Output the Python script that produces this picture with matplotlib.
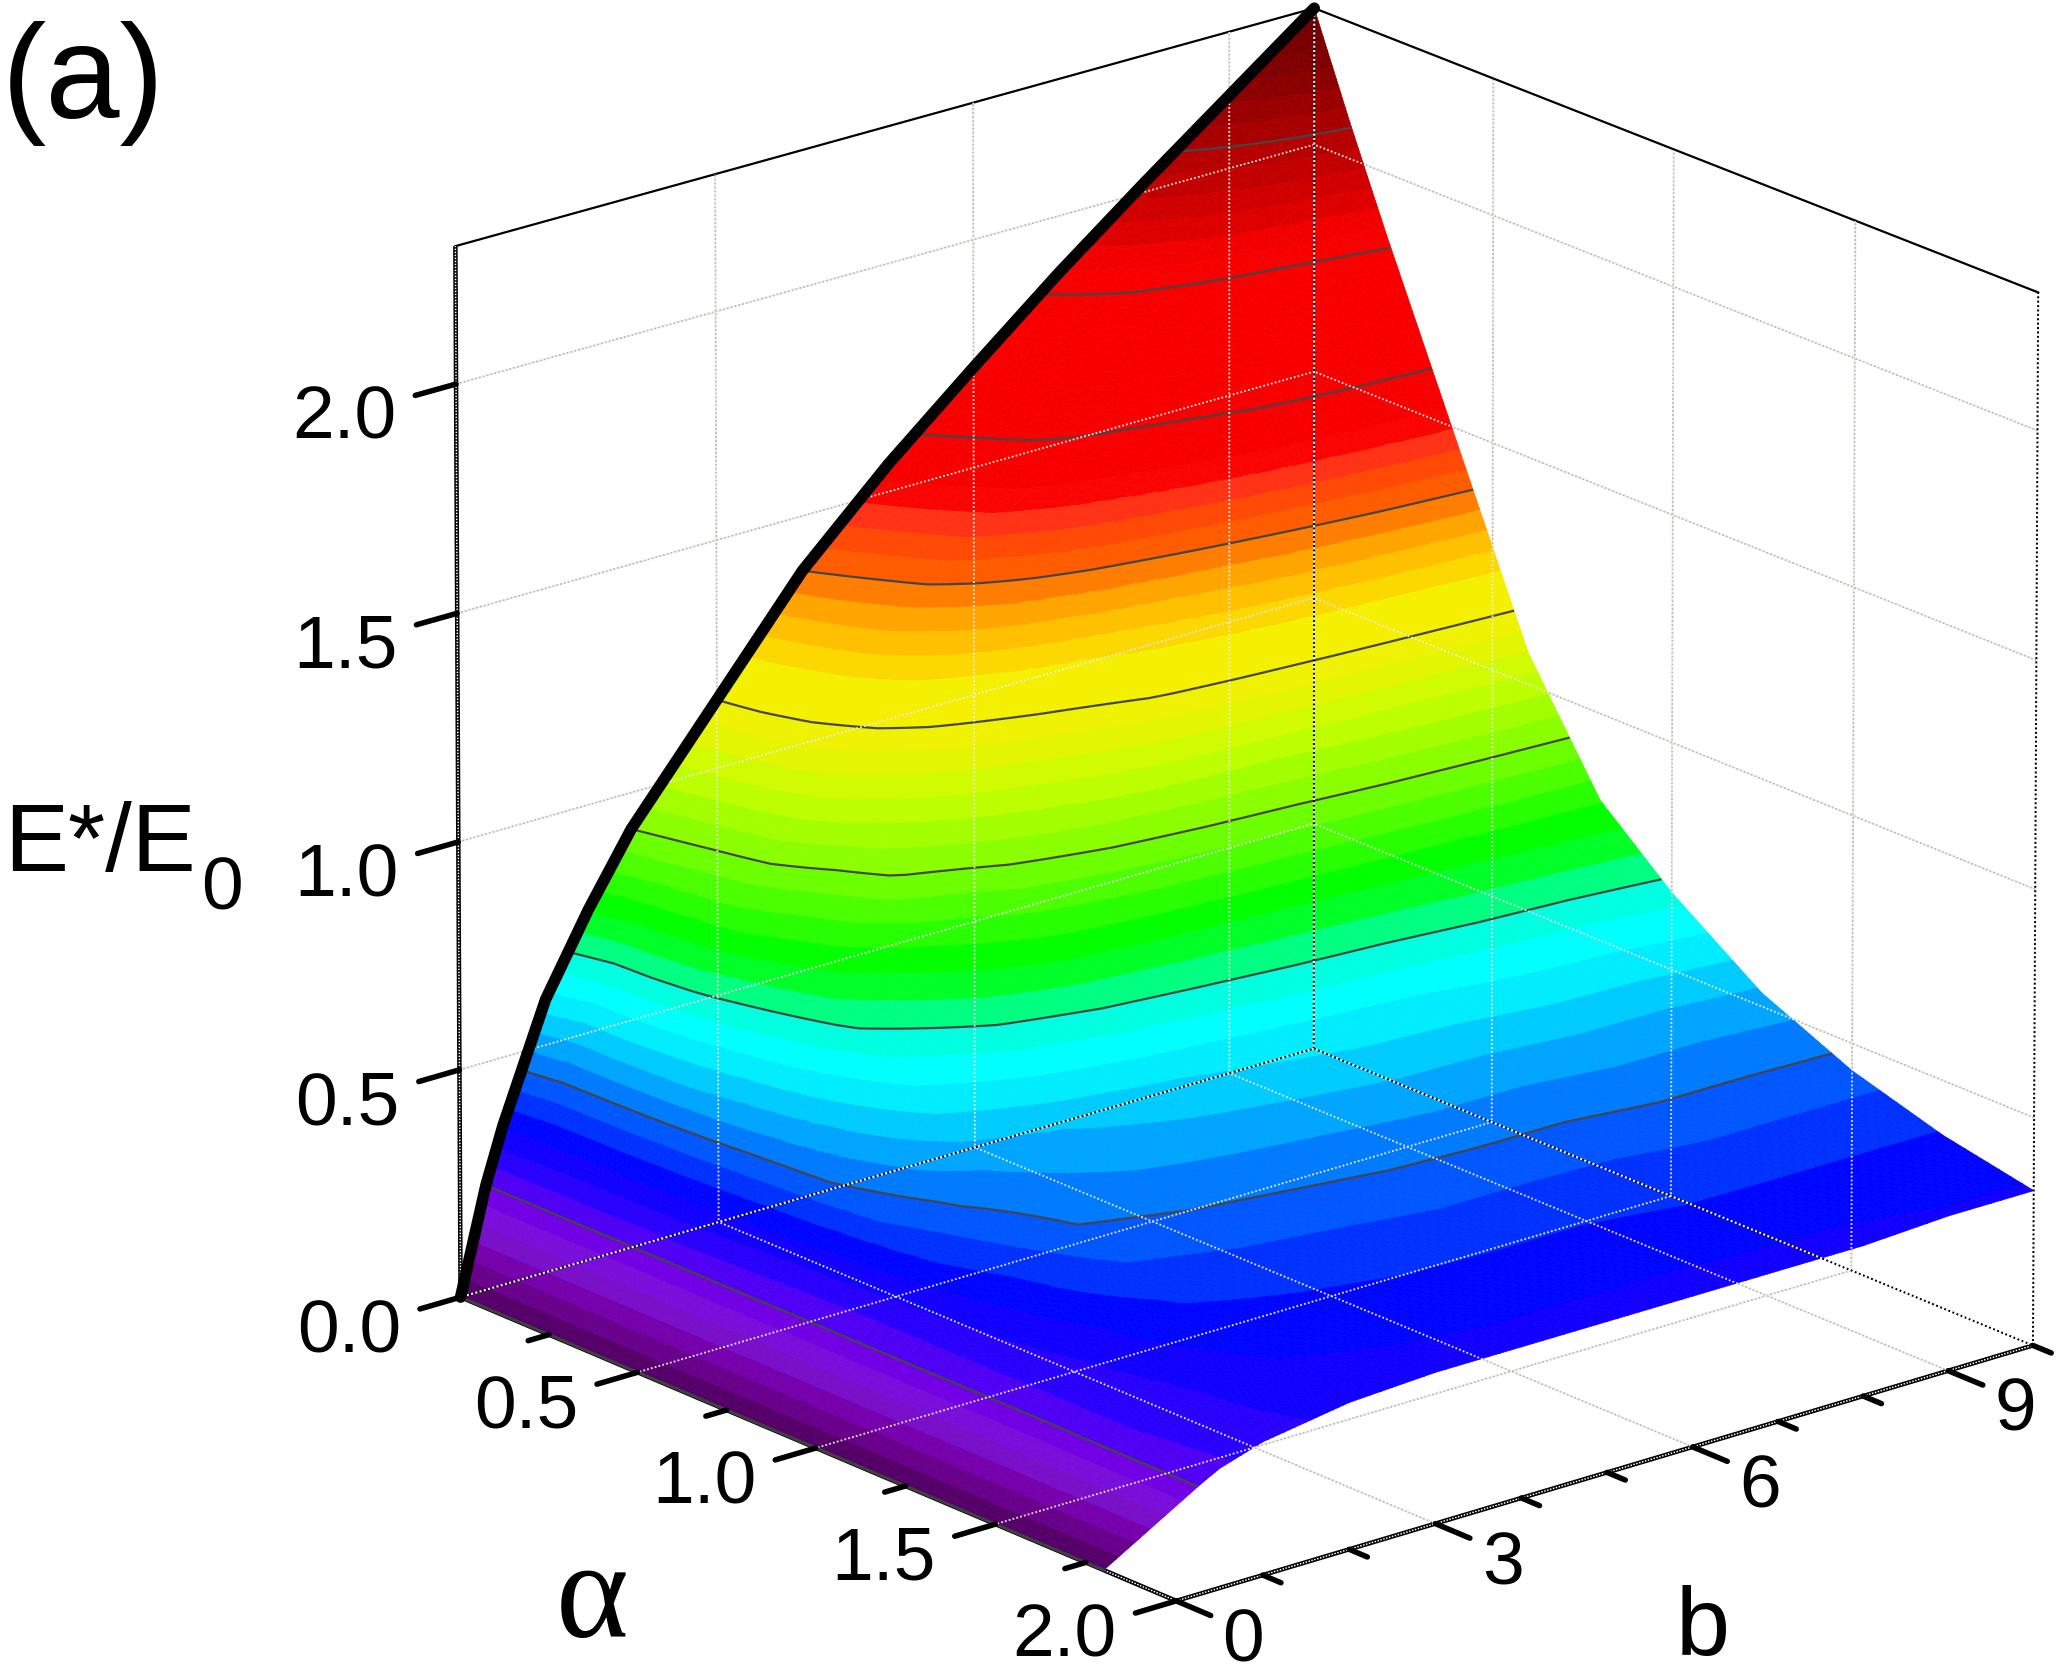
import numpy as np
import matplotlib
matplotlib.use('Agg')
import matplotlib.pyplot as plt
from matplotlib.colors import LinearSegmentedColormap
from mpl_toolkits.mplot3d import proj3d
from mpl_toolkits.mplot3d.art3d import Poly3DCollection

WIDTH, HEIGHT = 2065, 1679
SANS = 'Liberation Sans'
SERIF = 'Liberation Serif'

# surface samples: one row per alpha, one column per b
alpha_values = [0, .1, .2, .3, .4, .5, .6, .8, 1, 1.25, 1.5, 1.75, 2]
b_values = [0, .3, .5, 1, 1.5, 2, 3, 4, 5, 6, 7, 8, 9, 10]
alpha_reach = [1.8, 2, 2, 2, 2, 2, 2, 2, 2, 2, 2, 2, 2, 2]
energy = [
    [0, .23, .35, .60, .77, .92, 1.15, 1.38, 1.56, 1.72, 1.875, 2.02, 2.16, 2.30],
    [0, .23, .33, .55, .73, .89, 1.13, 1.33, 1.50, 1.65, 1.79, 1.90, 2.00, 2.08],
    [0, .23, .32, .55, .72, .86, 1.10, 1.28, 1.44, 1.58, 1.66, 1.73, 1.79, 1.87],
    [0, .23, .32, .54, .70, .84, 1.05, 1.21, 1.33, 1.43, 1.51, 1.59, 1.64, 1.67],
    [0, .23, .31, .53, .67, .79, .97, 1.10, 1.19, 1.26, 1.32, 1.38, 1.43, 1.47],
    [0, .23, .31, .51, .64, .75, .91, .99, 1.06, 1.14, 1.18, 1.21, 1.24, 1.27],
    [0, .23, .30, .49, .61, .71, .81, .90, .95, .98, 1.00, 1.03, 1.05, 1.07],
    [0, .23, .28, .46, .54, .61, .68, .72, .74, .755, .77, .785, .80, .81],
    [0, .23, .27, .41, .47, .50, .54, .57, .59, .61, .62, .64, .65, .67],
    [0, .23, .27, .35, .41, .46, .48, .49, .50, .51, .51, .52, .52, .53],
    [0, .23, .27, .31, .36, .39, .41, .42, .43, .43, .43, .44, .44, .44],
    [0, .24, .27, .29, .325, .35, .36, .37, .37, .37, .38, .38, .38, .38],
    [0, .24, .26, .29, .305, .32, .33, .33, .33, .33, .33, .33, .34, .34],
]
contour_levels = [.23, .46, .69, .92, 1.15, 1.38, 1.61, 1.84, 2.07]

alpha_limits = (0, 2)
b_limits = (0, 10)
z_limits = (0, 2.3)
z_ticks = [0, .5, 1, 1.5, 2]
z_tick_labels = ['0.0', '0.5', '1.0', '1.5', '2.0']
alpha_major = [.5, 1, 1.5, 2]
alpha_major_labels = ['0.5', '1.0', '1.5', '2.0']
alpha_minor = [.25, .75, 1.25, 1.75]
b_major = [0, 3, 6, 9]
b_major_labels = ['0', '3', '6', '9']
b_minor = [1, 2, 4, 5, 7, 8, 10]

# rainbow scale: value on the z axis and its colour
scale_values = [0, .05, .10, .15, .20, .23, .30, .36, .40, .46, .52, .57, .62, .66, .70, .74, .78, .85, .92,
                1.02, 1.08, 1.15, 1.21, 1.26, 1.33, 1.38, 1.43, 1.48, 1.52, 1.89, 1.93, 2.00, 2.07, 2.20, 2.30]
scale_colors = ['#4a0058', '#680088', '#7800b0', '#7a18d8', '#7800e0', '#6000f0', '#1c00ff', '#0000ff', '#0030ff',
                '#0068ff', '#00a8ff', '#00dcff', '#00ffff', '#00ffff', '#00ff90', '#00ff30', '#00ff00', '#40ff00',
                '#7dff00', '#c0ff00', '#dff800', '#f5f000', '#f5f000', '#ffd000', '#ffa000', '#ff6400', '#ff5000',
                '#ff3018', '#f80000', '#f80000', '#e00000', '#c80000', '#b00000', '#800000', '#700000']
band_count = 60


def px(v):
    """Line width in points for a width given in output pixels."""
    return v * 0.72


def refine(values, parts):
    """Subdivide a sample axis into equal parts per cell."""
    pos = np.linspace(0, len(values) - 1, (len(values) - 1) * parts + 1)
    return pos, np.interp(pos, np.arange(len(values)), values)


def clip_by_height(poly, level, keep_above):
    """Cut a 3D polygon with a horizontal plane, keeping one side."""
    out = []
    for i in range(len(poly)):
        p, q = poly[i], poly[(i + 1) % len(poly)]
        dp, dq = p[2] - level, q[2] - level
        if not keep_above:
            dp, dq = -dp, -dq
        if dp >= 0:
            out.append(p)
        if (dp >= 0) != (dq >= 0):
            t = dp / (dp - dq)
            out.append(tuple(p[k] + t * (q[k] - p[k]) for k in range(3)))
    return out


def band_polygons(X, Y, Z, height):
    """Split the mesh triangles into flat-coloured pieces, one per band."""
    verts, bands = [], []
    rows, cols = Z.shape
    for i in range(rows - 1):
        for j in range(cols - 1):
            c = [(X[i + u, j + v], Y[i + u, j + v], Z[i + u, j + v]) for u, v in ((0, 0), (1, 0), (1, 1), (0, 1))]
            for tri in ((c[0], c[1], c[2]), (c[0], c[2], c[3])):
                zs = [p[2] for p in tri]
                lo = int(min(zs) // height)
                hi = int(max(zs) // height)
                if lo == hi:
                    verts.append(list(tri))
                    bands.append(lo)
                    continue
                for k in range(lo, hi + 1):
                    piece = clip_by_height(list(tri), k * height, True)
                    if len(piece) >= 3:
                        piece = clip_by_height(piece, (k + 1) * height, False)
                    if len(piece) >= 3:
                        verts.append(piece)
                        bands.append(k)
    return verts, np.array(bands)


fig = plt.figure(figsize=(WIDTH / 100, HEIGHT / 100), dpi=100, facecolor='white')
ax = fig.add_subplot(projection='3d', computed_zorder=False)
ax.set_axis_off()
ax.view_init(elev=20.04, azim=-40.0)
ax.set_proj_type('persp', focal_length=5.7127)
ax.set_box_aspect((1, 1, 1))
ax.set_xlim(*alpha_limits)
ax.set_ylim(*b_limits)
ax.set_zlim(*z_limits)

# place the square axes so the projected box lands where it should on the page
view_scale, view_x, view_y = 10177.48, 1245.89, 882.0
x0, x1 = ax.viewLim.intervalx
y0, y1 = ax.viewLim.intervaly
side = view_scale * (x1 - x0)
ax.set_position([(view_x + view_scale * x0) / WIDTH, (view_y + view_scale * y0) / HEIGHT,
                 side / WIDTH, side / HEIGHT])

# bilinear mesh over the samples
pos_a, alpha_fine = refine(alpha_values, 8)
pos_b, b_fine = refine(b_values, 8)
samples = np.array(energy, float)
by_b = np.array([np.interp(pos_b, np.arange(len(b_values)), row) for row in samples])
Z = np.array([np.interp(pos_a, np.arange(len(alpha_values)), col) for col in by_b.T]).T
reach = np.interp(pos_b, np.arange(len(b_values)), alpha_reach)
Y, X = np.meshgrid(b_fine, alpha_fine)
X = X * reach[None, :] / 2

top = z_limits[1]
cmap = LinearSegmentedColormap.from_list('bands', [(v / top, c) for v, c in zip(scale_values, scale_colors)], N=512)
band_height = top / band_count
polys, band_ids = band_polygons(X, Y, Z, band_height)
poly_colors = cmap((np.clip(band_ids, 0, band_count - 1) + .5) / band_count)


def line3d(xs, ys, zs, **kw):
    ax.plot(xs, ys, zs, clip_on=False, **kw)


def dotted_pair(xs, ys, zs, under, over, zu, zo, width=1.8):
    """Dots in one colour, with the gaps filled by dots in a second colour."""
    line3d(xs, ys, zs, color=under, lw=px(width), ls=(0, (1, 1.2)), dash_capstyle='butt', zorder=zu)
    line3d(xs, ys, zs, color=over, lw=px(width), ls=(1.1, (1, 1.2)), dash_capstyle='butt', zorder=zo)


def grid_line(xs, ys, zs):
    dotted_pair(xs, ys, zs, '#b8b8b0', '#ecece6', 1, 6)


a0, a1 = alpha_limits
b0, b1 = b_limits
z0, z1 = z_limits
for z in z_ticks[1:]:
    grid_line([a0, a0], [b0, b1], [z, z])
    grid_line([a0, a1], [b1, b1], [z, z])
for b in [3, 6, 9]:
    grid_line([a0, a0], [b, b], [z0, z1])
    grid_line([a0, a1], [b, b], [z0, z0])
for a in [.5, 1, 1.5]:
    grid_line([a, a], [b1, b1], [z0, z1])
    grid_line([a, a], [b0, b1], [z0, z0])


def hatched_edge(xs, ys, zs, zo=2):
    line3d(xs, ys, zs, color='black', lw=px(4.5), zorder=zo, solid_capstyle='butt')
    line3d(xs, ys, zs, color='white', lw=px(1.5), ls=(0, (1, 1)), dash_capstyle='butt', zorder=zo + .1)


hatched_edge([a0, a0], [b0, b0], [z0, z1])
hatched_edge([a0, a1], [b0, b0], [z0, z0])
hatched_edge([a1, a1], [b0, b1], [z0, z0])

surface = Poly3DCollection(polys, facecolors=poly_colors, edgecolors=poly_colors, linewidths=.5,
                           antialiased=True, zorder=3)
ax.add_collection3d(surface)

contours = ax.contour(X, Y, Z, levels=contour_levels, colors='#454545', linewidths=px(2.2), zorder=4)
contours.set_zorder(4)

# dark rim where the surface meets the floor, heavy rim along alpha = 0
line3d([a0, alpha_reach[0]], [b0, b0], [z0, z0], color='#404040', lw=px(3), zorder=5)
line3d(np.zeros(len(b_values)), b_values, samples[0], color='black', lw=px(11.5), zorder=7,
       solid_capstyle='round', solid_joinstyle='round')

# box outline
line3d([a0, a0, a1], [b0, b1, b1], [z1, z1, z1], color='black', lw=px(2.2), zorder=2, solid_joinstyle='miter')
dotted_pair([a0, a0], [b1, b1], [z0, z1], 'black', 'white', 6, 6.1, width=2)
dotted_pair([a0, a0], [b0, b1], [z0, z0], 'black', 'white', 6, 6.1, width=2)
dotted_pair([a0, a1], [b1, b1], [z0, z0], 'black', 'white', 6, 6.1, width=2)
line3d([a1, a1], [b1, b1], [z0, z1], color='black', lw=px(2), ls=(0, (1, 1.2)), dash_capstyle='butt', zorder=2)

# tick marks
tick_kw = dict(color='black', lw=px(5.5), solid_capstyle='round', zorder=8)
major_b, minor_b = .47, .24
major_a, minor_a = .095, .05
for z in z_ticks:
    line3d([a0, a0], [b0, -major_b], [z, z], **tick_kw)
for a in alpha_major:
    line3d([a, a], [b0, -major_b], [z0, z0], **tick_kw)
for a in alpha_minor:
    line3d([a, a], [b0, -minor_b], [z0, z0], **tick_kw)
for b in b_major:
    line3d([a1, a1 + major_a], [b, b], [z0, z0], **tick_kw)
for b in b_minor:
    line3d([a1, a1 + minor_a], [b, b], [z0, z0], **tick_kw)

# tick labels, anchored at the projected position of a point just outside the box
camera = ax.get_proj()


def tick_label(x, y, z, text, ha, va='center'):
    xp, yp, _ = proj3d.proj_transform(x, y, z, camera)
    ax.text2D(float(xp), float(yp), text, transform=ax.transData, ha=ha, va=va,
              family=SANS, size=54, color='black', clip_on=False, zorder=9)


for z, t in zip(z_ticks, z_tick_labels):
    tick_label(a0, -.69, z - .04, t, 'right')
for a, t in zip(alpha_major, alpha_major_labels):
    tick_label(a, -.69, -.04, t, 'right')
for b, t in zip(b_major, b_major_labels):
    tick_label(a1 + .185, b, -.07, t, 'center', va='baseline')


# panel tag and axis titles
def page_text(x, y, s, **kw):
    fig.text(x / WIDTH, 1 - y / HEIGHT, s, va='baseline', color='black', **kw)


page_text(2, 118, '(a)', family=SANS, size=96)
page_text(4, 871, 'E*/E', family=SANS, size=69)
page_text(201, 910, '0', family=SANS, size=54)
page_text(592, 1637, 'α', family=SERIF, size=100, ha='center')
page_text(1703, 1655, 'b', family=SANS, size=70, ha='center')

ax.set_xlim(*alpha_limits)
ax.set_ylim(*b_limits)
ax.set_zlim(*z_limits)
fig.savefig('out.png', dpi=100, facecolor='white')
